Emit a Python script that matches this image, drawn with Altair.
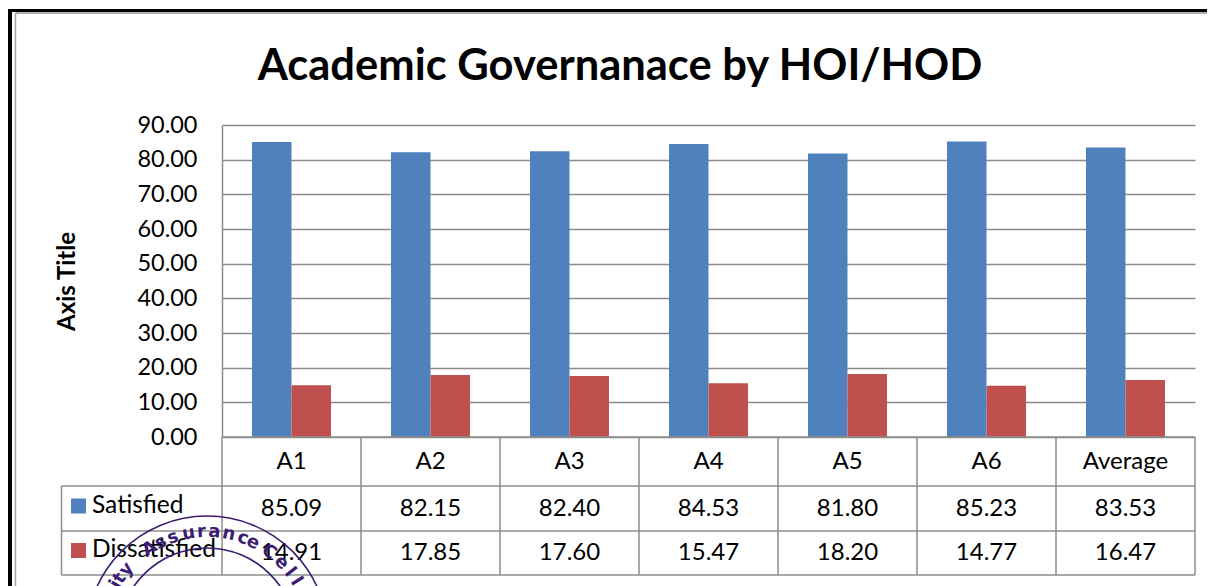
import altair as alt
import pandas as pd

cats = ["A1", "A2", "A3", "A4", "A5", "A6", "Average"]
satisfied = [85.09, 82.15, 82.40, 84.53, 81.80, 85.23, 83.53]
dissatisfied = [14.91, 17.85, 17.60, 15.47, 18.20, 14.77, 16.47]
series = ["Satisfied", "Dissatisfied"]
colors = ["#4f81bd", "#c0504d"]
title_text = ["Academic Governanace by HOI/HOD"]
GRID = "#8c8c8c"
FONT = "Lato"
W, H = 973, 312
LEFT, TOP = 214, 117

stamp_chars = list("lityAssuranceCell")
stamp_angles = [-64, -60, -56, -50, -33, -26, -19, -10, -3, 4, 12, 20, 26, 36, 45, 52, 58]

rows = pd.DataFrame(
    [{"cat": c, "series": "Satisfied", "value": v, "row": 1.5, "label": f"{v:.2f}"} for c, v in zip(cats, satisfied)]
    + [{"cat": c, "series": "Dissatisfied", "value": v, "row": 2.5, "label": f"{v:.2f}"} for c, v in zip(cats, dissatisfied)]
)
head = pd.DataFrame({"cat": cats, "row": [0.5] * 7})
legend = pd.DataFrame({"series": series, "row": [1.5, 2.5]})
edges = pd.DataFrame({"row": [0, 1, 2, 3]})
stamp = pd.DataFrame({"ch": stamp_chars, "deg": stamp_angles})
title_df = pd.DataFrame({"t": title_text})

xs = alt.Scale(domain=cats, paddingInner=0, paddingOuter=0)
xo = alt.Scale(domain=series, paddingInner=0, paddingOuter=0.76)
ys = alt.Scale(domain=[0, 1, 2, 3], range=[H, H + 49, H + 94, H + 138])
cs = alt.Scale(domain=series, range=colors)
X = alt.X("cat:N", scale=xs, axis=None, sort=cats)
Y = alt.Y("row:Q", scale=ys, axis=None)

bars = alt.Chart(rows).mark_bar().encode(
    x=X,
    xOffset=alt.XOffset("series:N", scale=xo, sort=series),
    y=alt.Y(
        "value:Q",
        scale=alt.Scale(domain=[0, 90], nice=False),
        axis=alt.Axis(
            values=list(range(0, 100, 10)), format=".2f", title="Axis Title", grid=True,
            gridColor=GRID, gridWidth=1.5, gridOpacity=1, domainColor=GRID, domainWidth=1.5,
            ticks=False, labelPadding=25, labelFontSize=23.5, labelColor="#000", labelFont=FONT,
            titleFont=FONT, titleFontSize=24, titleFontWeight="bold", titleColor="#000",
            titleX=-155, titleY=156, titleAngle=270, titleAlign="center", titleBaseline="middle",
        ),
    ),
    color=alt.Color("series:N", scale=cs, legend=None),
)

v_rules = alt.Chart(head).mark_rule(color=GRID, strokeWidth=1.5).encode(
    x=alt.X("cat:N", scale=xs, axis=None, sort=cats, bandPosition=0),
    y=alt.value(H), y2=alt.value(H + 138),
)
right_rule = alt.Chart(head.tail(1)).mark_rule(color=GRID, strokeWidth=1.5).encode(
    x=alt.X("cat:N", scale=xs, axis=None, sort=cats, bandPosition=1),
    y=alt.value(H), y2=alt.value(H + 138),
)
top_rule = alt.Chart(edges.head(1)).mark_rule(color=GRID, strokeWidth=1.5).encode(
    x=alt.value(0), x2=alt.value(W), y=Y,
)
row_rules = alt.Chart(edges.tail(3)).mark_rule(color=GRID, strokeWidth=1.5).encode(
    x=alt.value(-160.5), x2=alt.value(W), y=Y,
)
left_rule = alt.Chart(head.head(1)).mark_rule(color=GRID, strokeWidth=1.5).encode(
    x=alt.value(-160.5), y=alt.value(H + 49), y2=alt.value(H + 138),
)
head_text = alt.Chart(head).mark_text(font=FONT, fontSize=24, color="#000").encode(x=X, y=Y, text="cat:N")
val_text = alt.Chart(rows).mark_text(font=FONT, fontSize=24, color="#000").encode(x=X, y=Y, text="label:N")
keys = alt.Chart(legend).mark_square(size=225, opacity=1).encode(
    x=alt.value(-143.5), y=alt.Y("row:Q", scale=ys, axis=None),
    color=alt.Color("series:N", scale=cs, legend=None),
    yOffset=alt.value(-2.5),
)
key_text = alt.Chart(legend).mark_text(font=FONT, fontSize=24.5, color="#000", align="left", dy=-3).encode(
    x=alt.value(-130), y=Y, text="series:N",
)
title_mark = alt.Chart(title_df).mark_text(
    font=FONT, fontSize=43.5, fontWeight="bold", color="#000", align="center", baseline="alphabetic"
).encode(x=alt.value(398), y=alt.value(-45), text="t:N")

frame = [
    alt.Chart(edges.head(1)).mark_rule(color="#000", strokeWidth=4).encode(
        x=alt.value(2 - LEFT), y=alt.value(1 - TOP), y2=alt.value(H + 200)),
    alt.Chart(edges.head(1)).mark_rule(color="#000", strokeWidth=3).encode(
        x=alt.value(-LEFT), x2=alt.value(W + 40), y=alt.value(2.5 - TOP)),
    alt.Chart(edges.head(1)).mark_rule(color="#a0a0a0", strokeWidth=1.5).encode(
        x=alt.value(7.5 - LEFT), y=alt.value(5 - TOP), y2=alt.value(H + 200)),
    alt.Chart(edges.head(1)).mark_rule(color="#b0b0b0", strokeWidth=2).encode(
        x=alt.value(7.5 - LEFT), x2=alt.value(W + 40), y=alt.value(5 - TOP)),
]

CX, CY = 207 - 222, 637 - 125
rings = [
    alt.Chart(edges.head(1)).mark_arc(theta=0, theta2=6.2832, innerRadius=r - 0.8, outerRadius=r + 0.8, color="#3b1c72").encode(
        x=alt.value(CX), y=alt.value(CY))
    for r in (121, 89)
]
stamp_text = (
    alt.Chart(stamp)
    .transform_calculate(
        px=f"{CX} + 105 * sin(datum.deg * PI / 180)",
        py=f"{CY} - 105 * cos(datum.deg * PI / 180)",
        rot="(datum.deg + 360) % 360",
    )
    .mark_text(font="DejaVu Sans", fontSize=18, fontWeight="bold", color="#3b1c72")
    .encode(
        x=alt.X("px:Q", scale=None, axis=None),
        y=alt.Y("py:Q", scale=None, axis=None),
        angle=alt.Angle("rot:Q", scale=None),
        text="ch:N",
    )
)

chart = (
    alt.layer(
        bars, v_rules, right_rule, top_rule, row_rules, left_rule, head_text, val_text, keys, key_text,
        title_mark, *frame, *rings, stamp_text,
    )
    .resolve_scale(x="independent", y="independent", color="shared")
    .properties(
        width=W,
        height=H,
        padding={"left": LEFT, "top": TOP, "right": 12, "bottom": 149},
        autosize=alt.AutoSizeParams(type="none"),
        background="white",
    )
    .configure_view(stroke=None)
)
chart.save("out.html", embed_options={"renderer": "svg", "actions": False})
